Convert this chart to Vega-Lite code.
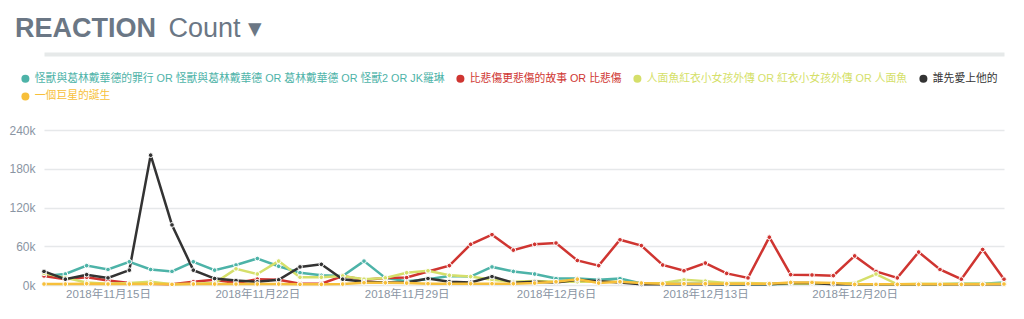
{
  "$schema": "https://vega.github.io/schema/vega-lite/v6.json",
  "width": 960,
  "height": 155,
  "autosize": {"type": "none"},
  "padding": {"left": 44, "top": 130, "right": 20, "bottom": 34},
  "background": "#ffffff",
  "title": {
    "text": "REACTION",
    "anchor": "start",
    "frame": "group",
    "font": "Liberation Sans",
    "fontSize": 27,
    "fontWeight": "bold",
    "color": "#6b7785",
    "dx": -29,
    "dy": 29,
    "offset": 0
  },
  "datasets": {
    "names": [
      {"k": "a", "name": "怪獸與葛林戴華德的罪行 OR 怪獸與葛林戴華德 OR 葛林戴華德 OR 怪獸2 OR JK羅琳"},
      {"k": "b", "name": "比悲傷更悲傷的故事 OR 比悲傷"},
      {"k": "c", "name": "人面魚紅衣小女孩外傳 OR 紅衣小女孩外傳 OR 人面魚"},
      {"k": "d", "name": "誰先愛上他的"},
      {"k": "e", "name": "一個巨星的誕生"}
    ]
  },
  "data": {
    "values": [
{"d":"2018/11/12","s":"a","v":14000},
{"d":"2018/11/13","s":"a","v":17000},
{"d":"2018/11/14","s":"a","v":30000},
{"d":"2018/11/15","s":"a","v":24000},
{"d":"2018/11/16","s":"a","v":36000},
{"d":"2018/11/17","s":"a","v":24000},
{"d":"2018/11/18","s":"a","v":21000},
{"d":"2018/11/19","s":"a","v":36000},
{"d":"2018/11/20","s":"a","v":23000},
{"d":"2018/11/21","s":"a","v":31000},
{"d":"2018/11/22","s":"a","v":41000},
{"d":"2018/11/23","s":"a","v":29000},
{"d":"2018/11/24","s":"a","v":19000},
{"d":"2018/11/25","s":"a","v":15000},
{"d":"2018/11/26","s":"a","v":14000},
{"d":"2018/11/27","s":"a","v":37000},
{"d":"2018/11/28","s":"a","v":11000},
{"d":"2018/11/29","s":"a","v":6000},
{"d":"2018/11/30","s":"a","v":9000},
{"d":"2018/12/01","s":"a","v":14000},
{"d":"2018/12/02","s":"a","v":13000},
{"d":"2018/12/03","s":"a","v":28000},
{"d":"2018/12/04","s":"a","v":21000},
{"d":"2018/12/05","s":"a","v":17000},
{"d":"2018/12/06","s":"a","v":10000},
{"d":"2018/12/07","s":"a","v":10000},
{"d":"2018/12/08","s":"a","v":8000},
{"d":"2018/12/09","s":"a","v":10000},
{"d":"2018/12/10","s":"a","v":2500},
{"d":"2018/12/11","s":"a","v":2000},
{"d":"2018/12/12","s":"a","v":2000},
{"d":"2018/12/13","s":"a","v":2000},
{"d":"2018/12/14","s":"a","v":1000},
{"d":"2018/12/15","s":"a","v":1000},
{"d":"2018/12/16","s":"a","v":1000},
{"d":"2018/12/17","s":"a","v":2000},
{"d":"2018/12/18","s":"a","v":2000},
{"d":"2018/12/19","s":"a","v":2000},
{"d":"2018/12/20","s":"a","v":1000},
{"d":"2018/12/21","s":"a","v":1000},
{"d":"2018/12/22","s":"a","v":1000},
{"d":"2018/12/23","s":"a","v":1000},
{"d":"2018/12/24","s":"a","v":1000},
{"d":"2018/12/25","s":"a","v":2000},
{"d":"2018/12/26","s":"a","v":2000},
{"d":"2018/12/27","s":"a","v":4000},
{"d":"2018/11/12","s":"b","v":14000},
{"d":"2018/11/13","s":"b","v":9000},
{"d":"2018/11/14","s":"b","v":12000},
{"d":"2018/11/15","s":"b","v":7000},
{"d":"2018/11/16","s":"b","v":3000},
{"d":"2018/11/17","s":"b","v":2000},
{"d":"2018/11/18","s":"b","v":1000},
{"d":"2018/11/19","s":"b","v":5000},
{"d":"2018/11/20","s":"b","v":8000},
{"d":"2018/11/21","s":"b","v":3000},
{"d":"2018/11/22","s":"b","v":9000},
{"d":"2018/11/23","s":"b","v":8000},
{"d":"2018/11/24","s":"b","v":2000},
{"d":"2018/11/25","s":"b","v":2000},
{"d":"2018/11/26","s":"b","v":14000},
{"d":"2018/11/27","s":"b","v":8000},
{"d":"2018/11/28","s":"b","v":11000},
{"d":"2018/11/29","s":"b","v":11500},
{"d":"2018/11/30","s":"b","v":21000},
{"d":"2018/12/01","s":"b","v":30000},
{"d":"2018/12/02","s":"b","v":63000},
{"d":"2018/12/03","s":"b","v":78000},
{"d":"2018/12/04","s":"b","v":54000},
{"d":"2018/12/05","s":"b","v":63000},
{"d":"2018/12/06","s":"b","v":65000},
{"d":"2018/12/07","s":"b","v":38000},
{"d":"2018/12/08","s":"b","v":30000},
{"d":"2018/12/09","s":"b","v":70000},
{"d":"2018/12/10","s":"b","v":61000},
{"d":"2018/12/11","s":"b","v":31000},
{"d":"2018/12/12","s":"b","v":22000},
{"d":"2018/12/13","s":"b","v":34000},
{"d":"2018/12/14","s":"b","v":18000},
{"d":"2018/12/15","s":"b","v":11000},
{"d":"2018/12/16","s":"b","v":74000},
{"d":"2018/12/17","s":"b","v":16000},
{"d":"2018/12/18","s":"b","v":15500},
{"d":"2018/12/19","s":"b","v":14500},
{"d":"2018/12/20","s":"b","v":45000},
{"d":"2018/12/21","s":"b","v":21000},
{"d":"2018/12/22","s":"b","v":11000},
{"d":"2018/12/23","s":"b","v":51000},
{"d":"2018/12/24","s":"b","v":24000},
{"d":"2018/12/25","s":"b","v":9000},
{"d":"2018/12/26","s":"b","v":55000},
{"d":"2018/12/27","s":"b","v":9000},
{"d":"2018/11/12","s":"c","v":18000},
{"d":"2018/11/13","s":"c","v":11000},
{"d":"2018/11/14","s":"c","v":4000},
{"d":"2018/11/15","s":"c","v":2000},
{"d":"2018/11/16","s":"c","v":3000},
{"d":"2018/11/17","s":"c","v":5000},
{"d":"2018/11/18","s":"c","v":1000},
{"d":"2018/11/19","s":"c","v":2000},
{"d":"2018/11/20","s":"c","v":3000},
{"d":"2018/11/21","s":"c","v":25000},
{"d":"2018/11/22","s":"c","v":17000},
{"d":"2018/11/23","s":"c","v":37000},
{"d":"2018/11/24","s":"c","v":12000},
{"d":"2018/11/25","s":"c","v":12000},
{"d":"2018/11/26","s":"c","v":14000},
{"d":"2018/11/27","s":"c","v":9000},
{"d":"2018/11/28","s":"c","v":11000},
{"d":"2018/11/29","s":"c","v":19000},
{"d":"2018/11/30","s":"c","v":22000},
{"d":"2018/12/01","s":"c","v":15000},
{"d":"2018/12/02","s":"c","v":13000},
{"d":"2018/12/03","s":"c","v":8000},
{"d":"2018/12/04","s":"c","v":5000},
{"d":"2018/12/05","s":"c","v":6000},
{"d":"2018/12/06","s":"c","v":5000},
{"d":"2018/12/07","s":"c","v":5000},
{"d":"2018/12/08","s":"c","v":5000},
{"d":"2018/12/09","s":"c","v":5000},
{"d":"2018/12/10","s":"c","v":2000},
{"d":"2018/12/11","s":"c","v":3000},
{"d":"2018/12/12","s":"c","v":8000},
{"d":"2018/12/13","s":"c","v":6000},
{"d":"2018/12/14","s":"c","v":3000},
{"d":"2018/12/15","s":"c","v":3000},
{"d":"2018/12/16","s":"c","v":2000},
{"d":"2018/12/17","s":"c","v":2000},
{"d":"2018/12/18","s":"c","v":2000},
{"d":"2018/12/19","s":"c","v":2000},
{"d":"2018/12/20","s":"c","v":3000},
{"d":"2018/12/21","s":"c","v":17000},
{"d":"2018/12/22","s":"c","v":1000},
{"d":"2018/12/23","s":"c","v":2000},
{"d":"2018/12/24","s":"c","v":2000},
{"d":"2018/12/25","s":"c","v":2000},
{"d":"2018/12/26","s":"c","v":2000},
{"d":"2018/12/27","s":"c","v":2000},
{"d":"2018/11/12","s":"d","v":21000},
{"d":"2018/11/13","s":"d","v":9000},
{"d":"2018/11/14","s":"d","v":16000},
{"d":"2018/11/15","s":"d","v":11000},
{"d":"2018/11/16","s":"d","v":23000},
{"d":"2018/11/17","s":"d","v":201000},
{"d":"2018/11/18","s":"d","v":93000},
{"d":"2018/11/19","s":"d","v":23000},
{"d":"2018/11/20","s":"d","v":10000},
{"d":"2018/11/21","s":"d","v":7000},
{"d":"2018/11/22","s":"d","v":5000},
{"d":"2018/11/23","s":"d","v":8000},
{"d":"2018/11/24","s":"d","v":28000},
{"d":"2018/11/25","s":"d","v":32000},
{"d":"2018/11/26","s":"d","v":9000},
{"d":"2018/11/27","s":"d","v":5000},
{"d":"2018/11/28","s":"d","v":4000},
{"d":"2018/11/29","s":"d","v":4000},
{"d":"2018/11/30","s":"d","v":10000},
{"d":"2018/12/01","s":"d","v":5000},
{"d":"2018/12/02","s":"d","v":4000},
{"d":"2018/12/03","s":"d","v":13000},
{"d":"2018/12/04","s":"d","v":3500},
{"d":"2018/12/05","s":"d","v":5000},
{"d":"2018/12/06","s":"d","v":4000},
{"d":"2018/12/07","s":"d","v":8000},
{"d":"2018/12/08","s":"d","v":6000},
{"d":"2018/12/09","s":"d","v":4000},
{"d":"2018/12/10","s":"d","v":1000},
{"d":"2018/12/11","s":"d","v":1000},
{"d":"2018/12/12","s":"d","v":1000},
{"d":"2018/12/13","s":"d","v":1000},
{"d":"2018/12/14","s":"d","v":1000},
{"d":"2018/12/15","s":"d","v":1000},
{"d":"2018/12/16","s":"d","v":1000},
{"d":"2018/12/17","s":"d","v":3000},
{"d":"2018/12/18","s":"d","v":3000},
{"d":"2018/12/19","s":"d","v":1000},
{"d":"2018/12/20","s":"d","v":1000},
{"d":"2018/12/21","s":"d","v":1000},
{"d":"2018/12/22","s":"d","v":1000},
{"d":"2018/12/23","s":"d","v":1000},
{"d":"2018/12/24","s":"d","v":1000},
{"d":"2018/12/25","s":"d","v":1000},
{"d":"2018/12/26","s":"d","v":1000},
{"d":"2018/12/27","s":"d","v":1000},
{"d":"2018/11/12","s":"e","v":1500},
{"d":"2018/11/13","s":"e","v":1500},
{"d":"2018/11/14","s":"e","v":2000},
{"d":"2018/11/15","s":"e","v":1500},
{"d":"2018/11/16","s":"e","v":1500},
{"d":"2018/11/17","s":"e","v":2000},
{"d":"2018/11/18","s":"e","v":1000},
{"d":"2018/11/19","s":"e","v":1500},
{"d":"2018/11/20","s":"e","v":1500},
{"d":"2018/11/21","s":"e","v":1500},
{"d":"2018/11/22","s":"e","v":1500},
{"d":"2018/11/23","s":"e","v":1500},
{"d":"2018/11/24","s":"e","v":1000},
{"d":"2018/11/25","s":"e","v":1000},
{"d":"2018/11/26","s":"e","v":1500},
{"d":"2018/11/27","s":"e","v":3500},
{"d":"2018/11/28","s":"e","v":3500},
{"d":"2018/11/29","s":"e","v":3000},
{"d":"2018/11/30","s":"e","v":2000},
{"d":"2018/12/01","s":"e","v":2000},
{"d":"2018/12/02","s":"e","v":2000},
{"d":"2018/12/03","s":"e","v":2000},
{"d":"2018/12/04","s":"e","v":2000},
{"d":"2018/12/05","s":"e","v":3000},
{"d":"2018/12/06","s":"e","v":5000},
{"d":"2018/12/07","s":"e","v":9000},
{"d":"2018/12/08","s":"e","v":3000},
{"d":"2018/12/09","s":"e","v":5000},
{"d":"2018/12/10","s":"e","v":3000},
{"d":"2018/12/11","s":"e","v":2000},
{"d":"2018/12/12","s":"e","v":2000},
{"d":"2018/12/13","s":"e","v":2000},
{"d":"2018/12/14","s":"e","v":2000},
{"d":"2018/12/15","s":"e","v":2000},
{"d":"2018/12/16","s":"e","v":2000},
{"d":"2018/12/17","s":"e","v":4000},
{"d":"2018/12/18","s":"e","v":4000},
{"d":"2018/12/19","s":"e","v":3000},
{"d":"2018/12/20","s":"e","v":1000},
{"d":"2018/12/21","s":"e","v":1000},
{"d":"2018/12/22","s":"e","v":1000},
{"d":"2018/12/23","s":"e","v":1000},
{"d":"2018/12/24","s":"e","v":1000},
{"d":"2018/12/25","s":"e","v":1000},
{"d":"2018/12/26","s":"e","v":1000},
{"d":"2018/12/27","s":"e","v":1500}
    ]
  },
  "transform": [
    {"lookup": "s", "from": {"data": {"name": "names"}, "key": "k", "fields": ["name"]}}
  ],
  "encoding": {
    "y": {
      "field": "v",
      "type": "quantitative",
      "scale": {"domain": [0, 240000], "nice": false},
      "axis": {
        "values": [0, 60000, 120000, 180000, 240000],
        "labelExpr": "format(datum.value / 1000, 'd') + 'k'",
        "labelFontSize": 12,
        "labelColor": "#8a95a3",
        "labelPadding": 9,
        "ticks": false,
        "domain": false,
        "grid": true,
        "gridColor": "#e6e8ea",
        "gridWidth": 1.5,
        "title": "Count ▾",
        "titleAngle": 0,
        "titleX": 124,
        "titleY": -94,
        "titleAlign": "left",
        "titleBaseline": "alphabetic",
        "titleFont": "Liberation Sans, DejaVu Sans",
        "titleFontSize": 27,
        "titleFontWeight": "normal",
        "titleColor": "#6b7785"
      }
    },
    "color": {
      "field": "name",
      "type": "nominal",
      "sort": null,
      "scale": {
        "domain": [
          "怪獸與葛林戴華德的罪行 OR 怪獸與葛林戴華德 OR 葛林戴華德 OR 怪獸2 OR JK羅琳",
          "比悲傷更悲傷的故事 OR 比悲傷",
          "人面魚紅衣小女孩外傳 OR 紅衣小女孩外傳 OR 人面魚",
          "誰先愛上他的",
          "一個巨星的誕生"
        ],
        "range": ["#4db3a8", "#cf3531", "#d5df6a", "#333333", "#f7bf3a"]
      },
      "legend": {
        "orient": "none",
        "legendX": -24,
        "legendY": -57,
        "direction": "horizontal",
        "columns": 4,
        "title": null,
        "padding": 0,
        "symbolType": "circle",
        "symbolSize": 64,
        "symbolStrokeWidth": 0,
        "labelFontSize": 10.8,
        "labelLimit": 600,
        "labelOffset": 4,
        "columnPadding": 10,
        "rowPadding": 6,
        "encode": {
          "symbols": {"update": {"fill": {"scale": "color", "field": "value"}, "stroke": {"value": "transparent"}}},
          "labels": {"update": {"fill": {"scale": "color", "field": "value"}}}
        }
      }
    }
  },
  "layer": [
    {
      "mark": {"type": "line", "strokeWidth": 2.5},
      "encoding": {
        "x": {
          "field": "d",
          "type": "temporal",
          "scale": {"nice": false},
          "axis": {
            "title": null,
            "values": [
              {"year": 2018, "month": 11, "date": 15},
              {"year": 2018, "month": 11, "date": 22},
              {"year": 2018, "month": 11, "date": 29},
              {"year": 2018, "month": 12, "date": 6},
              {"year": 2018, "month": 12, "date": 13},
              {"year": 2018, "month": 12, "date": 20}
            ],
            "format": "%Y年%-m月%-d日",
            "labelFontSize": 11.5,
            "labelColor": "#8a95a3",
            "labelPadding": 3,
            "ticks": false,
            "domain": false,
            "grid": false
          }
        }
      }
    },
    {
      "mark": {"type": "point", "filled": true, "size": 22, "opacity": 1, "stroke": "#ffffff", "strokeWidth": 1},
      "encoding": {
        "x": {
          "field": "d",
          "type": "temporal",
          "axis": {
            "orient": "top",
            "title": null,
            "labels": false,
            "ticks": false,
            "grid": false,
            "domain": true,
            "domainColor": "#e6e9e9",
            "domainWidth": 4,
            "offset": 76
          }
        }
      }
    }
  ],
  "resolve": {"axis": {"x": "independent"}},
  "config": {
    "font": "Liberation Sans, Noto Sans CJK TC",
    "view": {"stroke": null},
    "axis": {"labelFont": "Liberation Sans, Noto Sans CJK TC"},
    "legend": {"labelFont": "Liberation Sans, Noto Sans CJK TC"}
  }
}
